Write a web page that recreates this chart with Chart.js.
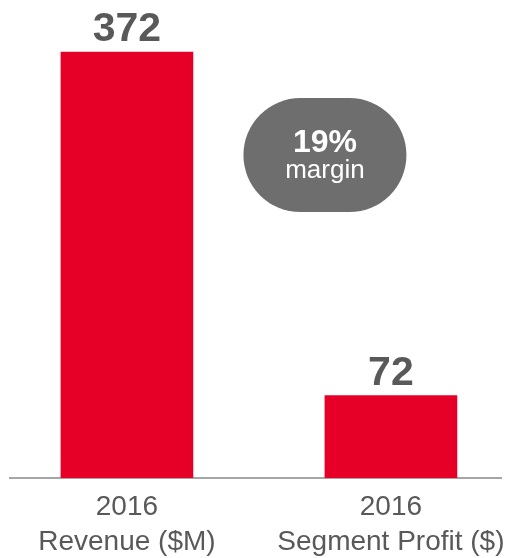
<!DOCTYPE html>
<html>
<head>
<meta charset="utf-8">
<script src="https://cdn.jsdelivr.net/npm/chart.js@4/dist/chart.umd.min.js"></script>
<style>
  html, body { margin: 0; padding: 0; background: #fff; }
  #wrap { width: 508px; height: 558px; position: relative; }
</style>
</head>
<body>
<div id="wrap"><canvas id="segmentChart"></canvas></div>
<script>
const categories = [
  ["2016", "Revenue ($M)"],
  ["2016", "Segment Profit ($)"]
];
const values = [372, 72];
const marginText = ["19%", "margin"];

const FONT = "'Liberation Sans', Arial, sans-serif";

// value labels above the bars and the gray margin bubble
const labelsPlugin = {
  id: "labels",
  afterDatasetsDraw(chart) {
    const ctx = chart.ctx;
    const meta = chart.getDatasetMeta(0);
    ctx.save();
    ctx.fillStyle = "#595959";
    ctx.font = "bold 41px " + FONT;
    ctx.textAlign = "center";
    ctx.textBaseline = "alphabetic";
    meta.data.forEach((bar, i) => {
      ctx.fillText(String(values[i]), bar.x, bar.y - 11);
    });

    const x = chart.scales.x.getPixelForValue(0.75);
    const y = chart.scales.y.getPixelForValue(282);
    const w = 163, h = 114;
    ctx.fillStyle = "#6e6e6e";
    ctx.beginPath();
    ctx.roundRect(x - w / 2, y - h / 2, w, h, 57);
    ctx.fill();
    ctx.fillStyle = "#ffffff";
    ctx.font = "bold 32px " + FONT;
    ctx.fillText(marginText[0], x, y - 3);
    ctx.font = "26px " + FONT;
    ctx.fillText(marginText[1], x, y + 23);
    ctx.restore();
  }
};

const ctx = document.getElementById("segmentChart").getContext("2d");
const segmentChart = new Chart(ctx, {
  type: "bar",
  data: {
    datasets: [
      {
        data: values.map((v, i) => ({ x: i, y: v })),
        backgroundColor: "#e60028",
        borderWidth: 0,
        barThickness: 132,
      },
    ],
  },
  options: {
    responsive: true,
    maintainAspectRatio: false,
    animation: false,
    layout: {
      padding: { top: 20, left: 10, right: 7, bottom: 0 },
    },
    scales: {
      x: {
        type: "linear",
        offset: false,
        min: -0.443,
        max: 1.417,
        grid: { display: false, drawTicks: false, offset: false },
        border: { display: true, color: "#a6a6a6", width: 2 },
        afterBuildTicks: (scale) => {
          scale.ticks = categories.map((c, i) => ({ value: i }));
        },
        afterFit: (scale) => {
          scale.height = 80;
          scale.paddingLeft = 0;
          scale.paddingRight = 0;
        },
        ticks: {
          autoSkip: false,
          maxRotation: 0,
          padding: 12,
          color: "#595959",
          font: { family: FONT, size: 28, lineHeight: 1.25 },
          callback: (v) => categories[v],
        },
      },
      y: {
        display: false,
        min: 0,
        max: 400,
      },
    },
    plugins: {
      legend: { display: false },
      tooltip: { enabled: false },
    },
  },
  plugins: [labelsPlugin],
});
</script>
</body>
</html>
